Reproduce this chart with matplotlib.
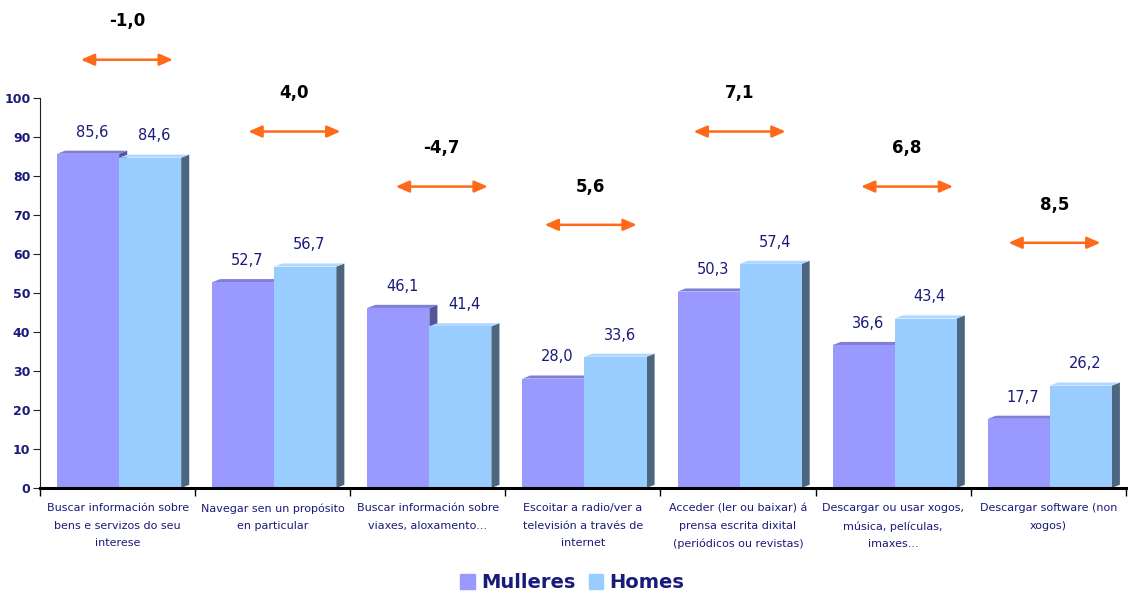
import matplotlib.pyplot as plt
from matplotlib.patches import Polygon, Rectangle

categories = [
    "Buscar información sobre\nbens e servizos do seu\ninterese",
    "Navegar sen un propósito\nen particular",
    "Buscar información sobre\nviaxes, aloxamento...",
    "Escoitar a radio/ver a\ntelevisión a través de\ninternet",
    "Acceder (ler ou baixar) á\nprensa escrita dixital\n(periódicos ou revistas)",
    "Descargar ou usar xogos,\nmúsica, películas,\nimaxes...",
    "Descargar software (non\nxogos)",
]
mulleres = [85.6, 52.7, 46.1, 28.0, 50.3, 36.6, 17.7]
homes = [84.6, 56.7, 41.4, 33.6, 57.4, 43.4, 26.2]
# where the difference arrows sit (group offset, chart units)
arrow_x = [0.56, 0.64, 0.59, 0.55, 0.51, 0.59, 0.54]
arrow_y = [109.7, 91.3, 77.2, 67.4, 91.3, 77.2, 62.8]

navy = "#1a1a7a"
c_m, c_m_side, c_m_top = "#9999ff", "#55559c", "#8080d8"
c_h, c_h_side, c_h_top = "#99ccff", "#4d6680", "#b0d8ff"

fig = plt.figure(figsize=(11.31, 5.95), dpi=100)
ax = fig.add_axes([0.0354, 0.18, 0.96, 0.82])
ax.set_xlim(0, 7)
ax.set_ylim(0, 125)

bw = 0.40
dx, dy = 0.052, 0.8


def bar3d(x0, h, face, side, top):
    ax.add_patch(Polygon([(x0 + bw, 0), (x0 + bw + dx, dy), (x0 + bw + dx, h + dy), (x0 + bw, h)],
                         closed=True, facecolor=side, edgecolor="none", zorder=2))
    ax.add_patch(Polygon([(x0, h), (x0 + dx, h + dy), (x0 + bw + dx, h + dy), (x0 + bw, h)],
                         closed=True, facecolor=top, edgecolor="none", zorder=2))
    ax.add_patch(Rectangle((x0, 0), bw, h, facecolor=face, edgecolor="none", zorder=2))


for i in range(len(categories)):
    xm = i + 0.11
    xh = xm + bw
    bar3d(xm, mulleres[i], c_m, c_m_side, c_m_top)
    bar3d(xh, homes[i], c_h, c_h_side, c_h_top)
    for x0, v in [(xm, mulleres[i]), (xh, homes[i])]:
        ax.annotate(f"{v:.1f}".replace(".", ","), (x0 + bw / 2 + dx / 2, v + dy),
                    xytext=(0, 8), textcoords="offset points", ha="center", va="bottom",
                    color=navy, fontsize=10.5, zorder=5)
    # difference arrow
    cx = i + arrow_x[i]
    ax.annotate("", xy=(cx - 0.297, arrow_y[i]), xytext=(cx + 0.297, arrow_y[i]),
                arrowprops=dict(arrowstyle="<|-|>,head_length=0.8,head_width=0.35",
                                color="#ff6a1a", lw=1.8, shrinkA=0, shrinkB=0),
                annotation_clip=False)
    d = homes[i] - mulleres[i]
    ax.text(cx, arrow_y[i] + 7.5, f"{d:.1f}".replace(".", ","), ha="center", va="bottom",
            fontsize=12, fontweight="bold", color="black")

# axes styling
for s in ["top", "right"]:
    ax.spines[s].set_visible(False)
ax.spines["left"].set_bounds(0, 100)
ax.spines["left"].set_color("#222222")
ax.spines["bottom"].set_linewidth(2.2)
ax.spines["bottom"].set_color("black")
ax.spines["bottom"].set_zorder(3)
ax.set_yticks(range(0, 101, 10))
ax.tick_params(axis="y", colors="#222222", labelcolor=navy, labelsize=9, length=5, pad=2)
for t in ax.get_yticklabels():
    t.set_fontweight("bold")

ax.set_xticks(range(0, 8))
ax.set_xticklabels([])
ax.tick_params(axis="x", which="major", length=6, width=1, color="black")
ax.set_xticks([i + 0.5 for i in range(len(categories))], minor=True)
ax.set_xticklabels(categories, minor=True, fontsize=8, color=navy, linespacing=1.95)
ax.tick_params(axis="x", which="minor", length=0, pad=11)

handles = [Rectangle((0, 0), 1, 1, color=c_m), Rectangle((0, 0), 1, 1, color=c_h)]
leg = fig.legend(handles, ["Mulleres", "Homes"], loc="lower center", bbox_to_anchor=(0.506, -0.025),
                 ncol=2, frameon=False, handlelength=0.75, handleheight=0.75, handletextpad=0.3,
                 columnspacing=0.7, prop=dict(size=14, weight="bold"))
for t in leg.get_texts():
    t.set_color(navy)

fig.savefig("out.png", dpi=100)
